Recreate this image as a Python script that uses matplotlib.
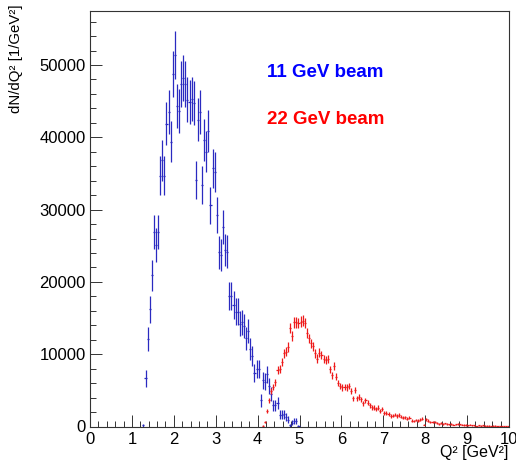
import numpy as np
import matplotlib
matplotlib.use("Agg")
import matplotlib.pyplot as plt
from matplotlib.ticker import MultipleLocator

plt.rcParams['font.family'] = ['Liberation Sans', 'DejaVu Sans']

# histogram binning (GeV^2)
bin_width = 0.05
blue_first_edge = 1.25   # 11 GeV beam, first filled bin
red_first_edge = 4.10    # 22 GeV beam, first filled bin

# 11 GeV beam: counts per bin and errors
blue_counts = [150, 6700, 12100, 16200, 20900, 26900, 25100, 26900, 34700, 36800,
               34700, 41900, 43500, 39400, 48800, 51400, 44300, 43600, 47400, 48200,
               47400, 45200, 44900, 45300, 44700, 34100, 42400, 43500, 33400, 39600,
               38000, 40900, 30600, 35700, 35200, 29200, 24100, 23700, 27600, 24400,
               24200, 18100, 18100, 16800, 15900, 15900, 14200, 14400, 13900, 12200,
               13200, 10700, 9750, 7440, 7950, 7950, 3600, 6400, 6200, 7200,
               5600, 4450, 2930, 2930, 3200, 1630, 1630, 1690, 1310, 940,
               200, 530, 720, 800, 100]
blue_errors = [180, 1180, 1600, 1850, 2100, 2400, 2300, 2400, 2700, 2780,
               2700, 2950, 3000, 2880, 3200, 3300, 3050, 3030, 3150, 3180,
               3150, 3080, 3070, 3080, 3060, 2680, 2980, 3020, 2650, 2880,
               2830, 2930, 2540, 2740, 2720, 2480, 2250, 2230, 2400, 2260,
               2250, 1950, 1950, 1880, 1830, 1830, 1730, 1740, 1710, 1600,
               1670, 1500, 1430, 1250, 1290, 1290, 870, 1160, 1140, 1230,
               1080, 970, 790, 790, 820, 590, 590, 600, 520, 450,
               200, 330, 390, 410, 150]

# 22 GeV beam: counts per bin and errors
red_counts = [100, 600, 2150, 3600, 4900, 5500, 6100, 7800, 7950, 8960,
              10100, 10350, 11000, 13600, 12500, 14400, 14400, 14300, 14500, 14650,
              14300, 12900, 12200, 11500, 11100, 10100, 9400, 10200, 9900, 9300,
              9200, 9300, 7900, 7100, 8400, 6900, 6000, 5600, 5400, 5500,
              5400, 5600, 4950, 3900, 5050, 3900, 4050, 3750, 3200, 3650,
              3300, 2950, 2650, 2600, 2400, 2600, 2150, 2400, 1850, 1850,
              1700, 1450, 1500, 1650, 1450, 1600, 1350, 1200, 1250, 1050,
              1200, 800, 750, 900, 800, 950, 1100, 250, 1000, 800,
              650, 580, 620, 500, 350, 450, 380, 420, 330, 300,
              380, 250, 280, 320, 300, 240, 200, 210, 180, 230,
              150, 170, 80, 140, 120, 160, 90, 110, 130, 70,
              90, 100, 60, 80, 50, 70, 60, 40]
red_errors = [60, 150, 280, 360, 420, 440, 470, 530, 535, 570,
              600, 610, 630, 700, 670, 720, 720, 715, 720, 725,
              715, 680, 660, 645, 630, 600, 580, 605, 595, 580,
              575, 580, 535, 505, 550, 500, 465, 450, 440, 445,
              440, 450, 420, 375, 425, 375, 380, 365, 340, 360,
              345, 325, 310, 305, 295, 305, 280, 295, 260, 260,
              250, 230, 230, 245, 230, 240, 220, 210, 210, 195,
              210, 170, 165, 180, 170, 185, 200, 95, 190, 170,
              155, 145, 150, 135, 110, 125, 115, 125, 110, 105,
              115, 95, 100, 105, 105, 95, 85, 85, 80, 90,
              75, 80, 55, 70, 65, 75, 55, 65, 70, 50,
              55, 60, 45, 55, 40, 50, 45, 40]

blue_x = blue_first_edge + bin_width * (np.arange(len(blue_counts)) + 0.5)
red_x = red_first_edge + bin_width * (np.arange(len(red_counts)) + 0.5)

fig = plt.figure(figsize=(5.16, 4.62), dpi=100)
ax = fig.add_axes([90 / 516, 1 - 426.5 / 462, 419 / 516, 415.5 / 462])

ax.errorbar(blue_x, blue_counts, xerr=bin_width / 2, yerr=blue_errors, fmt='none',
            ecolor='#2a2ac0', elinewidth=0.9, capsize=0)
ax.errorbar(red_x, red_counts, xerr=bin_width / 2, yerr=red_errors, fmt='none',
            ecolor='#ee1a1a', elinewidth=0.9, capsize=0)

ax.set_xlim(0, 10)
ax.set_ylim(0, 57470)

ax.xaxis.set_major_locator(MultipleLocator(1))
ax.xaxis.set_minor_locator(MultipleLocator(0.2))
ax.yaxis.set_major_locator(MultipleLocator(10000))
ax.yaxis.set_minor_locator(MultipleLocator(2000))
ax.tick_params(which='both', direction='in', top=False, right=False, color='#333333', width=0.7)
ax.tick_params(which='major', length=8.6, labelsize=12)
ax.tick_params(which='minor', length=4.5)
ax.tick_params(axis='x', pad=4)
ax.tick_params(axis='y', pad=3)
for s in ax.spines.values():
    s.set_linewidth(0.8)
    s.set_color('#333333')

ax.text(4.22, 49000, "11 GeV beam", color='blue', fontsize=13.5, fontweight='bold',
        ha='left', va='center')
ax.text(4.22, 42400, "22 GeV beam", color='red', fontsize=13.5, fontweight='bold',
        ha='left', va='center')

fig.text(508 / 516, 1 - 453 / 462, "Q² [GeV²]", fontsize=11.5, ha='right', va='center')
fig.text(16 / 516, 1 - 4 / 462, "dN/dQ² [1/GeV²]", fontsize=10.8, rotation=90,
         ha='center', va='top')

fig.savefig("out.png", dpi=100)
